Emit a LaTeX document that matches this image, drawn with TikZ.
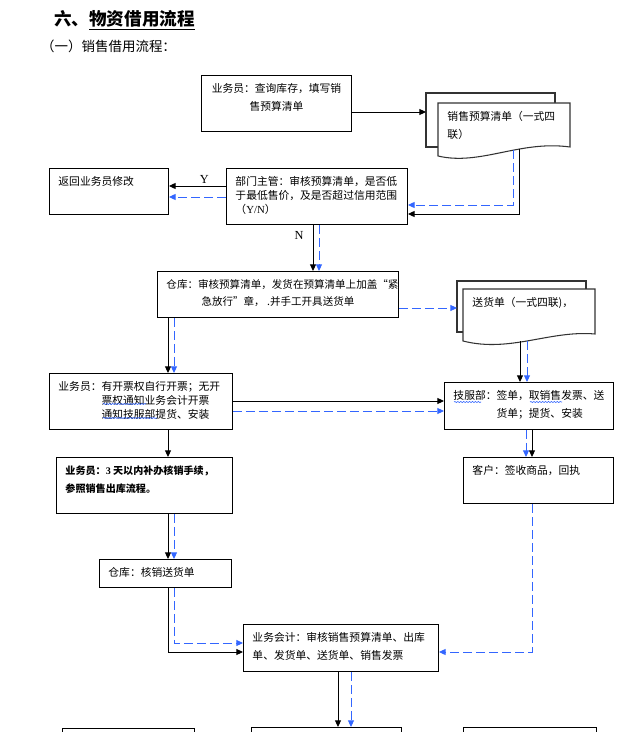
\documentclass[tikz,border=0pt]{standalone}
\usepackage{fontspec}
\setmainfont{Noto Sans CJK SC}
\newfontfamily\lat{Liberation Serif}
\usepackage{tikz}
\usetikzlibrary{arrows.meta,positioning,decorations.pathmorphing}

\definecolor{lanse}{RGB}{51,102,255}
\newdimen\pxd \pxd=0.03cm
% text block of a box: width, height (in px), content
\newcommand{\bt}[3]{\parbox[c][#2\pxd][t]{#1\pxd}{#3}}

\tikzset{
  box/.style={draw, line width=0.8pt, inner xsep=9\pxd, inner ysep=8\pxd, anchor=north west, font=\fontsize{9.2}{15}\selectfont},
  tight/.style={font=\fontsize{9.2}{11.9}\selectfont},
  doc/.style={draw=black!80, line width=0.9pt, fill=white},
  lbl/.style={font=\lat\fontsize{10.5}{12}\selectfont, inner sep=2pt},
  hei/.style={->, line width=0.8pt},
  lan/.style={->, lanse, line width=0.8pt, dash pattern=on 0.27cm off 0.12cm},
  bowen/.style={lanse, line width=0.5pt, decorate, decoration={snake, amplitude=0.5pt, segment length=2.5pt}},
  >={Triangle[length=0.2cm,width=0.18cm]}
}

\begin{document}
\begin{tikzpicture}[x=0.03cm, y=-0.03cm]
\useasboundingbox (0,0) rectangle (635,732);
\clip (0,0) rectangle (635,732);

% headings
\node[anchor=base west, inner sep=0pt, font=\bfseries\fontsize{15}{18}\selectfont] (title) at (54,26) {六、\underline{物资借用流程}};
\node[anchor=base west, inner sep=0pt, font=\fontsize{11.5}{14}\selectfont] (sub) at (41,52) {（一）销售借用流程：};

% boxes
\node[box] (ywy) at (201,75) {\bt{132}{40}{\centering 业务员：查询库存，填写销\\售预算清单}};
\node[box] (fh) at (49,168) {\bt{101}{30}{返回业务员修改}};
\node[box, tight] (bmzg) at (226,168) {\bt{163}{40}{部门主管：审核预算清单，是否低\\于最低售价，及是否超过信用范围\\（{\lat Y/N}）}};
\node[box, font=\fontsize{9}{14.5}\selectfont] (ck) at (157,271) {\bt{223}{30}{\centering 仓库：审核预算清单，发货在预算清单上加盖“紧\\急放行”章，\ .并手工开具送货单}};
\node[box, tight] (kp) at (49,373) {\bt{165}{40}{业务员：有开票权自行开票；无开\\\phantom{业务员：}票权通知业务会计开票\\\phantom{业务员：}通知技服部提货、安装}};
\node[box] (jfb) at (444,382) {\bt{151}{31}{技服部：签单，取销售发票、送\\\phantom{技服部：}货单；提货、安装}};
\node[box, font=\bfseries\fontsize{8.6}{15.3}\selectfont] (bl) at (56,457) {\bt{158}{40}{业务员：{\lat 3} 天以内补办核销手续，\\参照销售出库流程。}};
\node[box] (kh) at (463,457) {\bt{132}{30}{客户：签收商品，回执}};
\node[box] (hx) at (99,559) {\bt{114}{12}{仓库：核销送货单}};
\node[box] (kj) at (243,624) {\bt{177}{31}{业务会计：审核销售预算清单、出库\\单、发货单、送货单、销售发票}};
\node[box, minimum width=132\pxd, minimum height=40\pxd] (xa) at (62,728) {};
\node[box, minimum width=150\pxd, minimum height=40\pxd] (xb) at (251,727) {};
\node[box, minimum width=133\pxd, minimum height=40\pxd] (xc) at (463,727) {};

% documents
\draw[doc] (438,147) -- (426,147) -- (426,93) -- (555,93) -- (555,103);
\draw[doc] (438,103) -- (570,103) -- (570,147) .. controls (520,140) and (480,166) .. (438,156) -- cycle;
\node[box, draw=none] (xsd) at (438,103) {\bt{114}{37}{销售预算清单（一式四\\联）}};
\coordinate (d1a) at (426,112);
\coordinate (d1b) at (519,149);
\coordinate (d1c) at (513,150);

\draw[doc] (463,332) -- (457,332) -- (457,281) -- (586,281) -- (586,289);
\draw[doc] (463,289) -- (595,289) -- (595,334) .. controls (550,330) and (510,353) .. (463,341) -- cycle;
\node[box, draw=none] (shd) at (463,289) {\bt{114}{36}{送货单（一式四联)，}};
\coordinate (d2a) at (457,308);
\coordinate (d2b) at (520,341);
\coordinate (d2c) at (527,341);

% spell marks
\draw[bowen] (103,404) -- (146,404);
\draw[bowen] (103,418) -- (157,418);
\draw[bowen] (454,402) -- (481,402);
\draw[bowen] (530,402) -- (562,402);

% connectors
\draw[hei] (ywy.east |- d1a) -- (d1a);
\draw[hei] (d1b) |- (bmzg.east |- 0,214);
\draw[lan] (d1c) |- (bmzg.east |- 0,205);
\draw[hei] (bmzg.west |- 0,186) -- (fh.east |- 0,186) node[pos=0.38, above, lbl] {Y};
\draw[lan] (bmzg.west |- 0,197) -- (fh.east |- 0,197);
\draw[hei] (313,0 |- bmzg.south) -- (313,0 |- ck.north) node[pos=0.23, left=0.2cm, lbl] {N};
\draw[lan] (319,0 |- bmzg.south) -- (319,0 |- ck.north);
\draw[lan] (ck.east |- d2a) -- (d2a);
\draw[hei] (168,0 |- ck.south) -- (168,0 |- kp.north);
\draw[lan] (174,0 |- ck.south) -- (174,0 |- kp.north);
\draw[hei] (kp.east |- 0,401) -- (jfb.west |- 0,401);
\draw[lan] (kp.east |- 0,411) -- (jfb.west |- 0,411);
\draw[hei] (d2b) -- (d2b |- jfb.north);
\draw[lan] (d2c) -- (d2c |- jfb.north);
\draw[hei] (532,0 |- jfb.south) -- (532,0 |- kh.north);
\draw[lan] (526,0 |- jfb.south) -- (526,0 |- kh.north);
\draw[hei] (168,0 |- kp.south) -- (168,0 |- bl.north);
\draw[hei] (168,0 |- bl.south) -- (168,0 |- hx.north);
\draw[lan] (174,0 |- bl.south) -- (174,0 |- hx.north);
\draw[hei] (168,0 |- hx.south) |- (kj.west |- 0,652);
\draw[lan] (174,0 |- hx.south) |- (kj.west |- 0,643);
\draw[lan] (532,0 |- kh.south) |- (kj.east |- 0,652);
\draw[hei] (338,0 |- kj.south) -- (338,0 |- xb.north);
\draw[lan] (351,0 |- kj.south) -- (351,0 |- xb.north);
\end{tikzpicture}
\end{document}
